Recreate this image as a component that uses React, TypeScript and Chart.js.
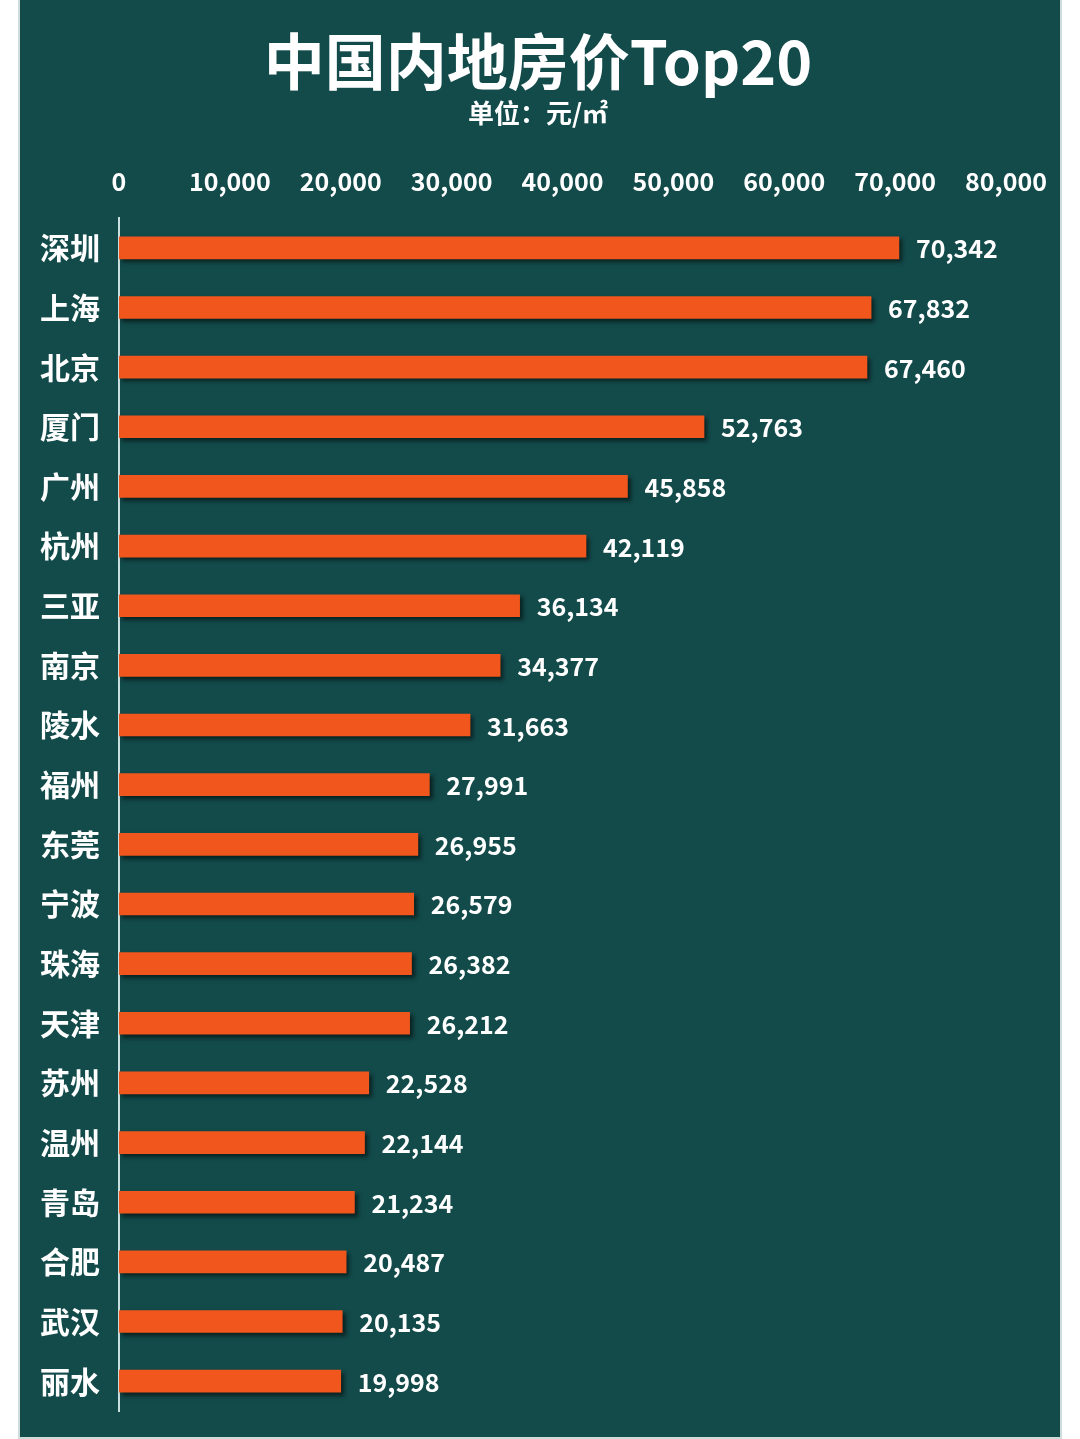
import React, { useEffect, useRef } from "react";
import { Chart, registerables } from "chart.js";

Chart.register(...registerables);

const cities = ["深圳", "上海", "北京", "厦门", "广州", "杭州", "三亚", "南京", "陵水", "福州", "东莞", "宁波", "珠海", "天津", "苏州", "温州", "青岛", "合肥", "武汉", "丽水"];
const prices = [70342, 67832, 67460, 52763, 45858, 42119, 36134, 34377, 31663, 27991, 26955, 26579, 26382, 26212, 22528, 22144, 21234, 20487, 20135, 19998];
const titleText = "中国内地房价Top20";
const subtitleText = "单位：元/㎡";
const xMax = 80000;
const xStep = 10000;

const BG = "#134a4a";
const BAR = "#f1561c";
const FONT = "'Noto Sans CJK SC', 'Noto Sans', sans-serif";

const fmt = (v: number) => v.toLocaleString("en-US");

export default function App() {
  const ref = useRef<HTMLCanvasElement | null>(null);
  useEffect(() => {
    if (!ref.current) return;
    const bgPlugin = {
      id: "bg",
      beforeDraw(chart: any) {
        const { ctx, width, height } = chart;
        ctx.save();
        ctx.fillStyle = BG;
        ctx.fillRect(0, 0, width, height);
        ctx.fillStyle = "#ffffff";
        ctx.textAlign = "center";
        ctx.textBaseline = "middle";
        ctx.font = `bold 61px ${FONT}`;
        ctx.fillText(titleText, width / 2 - 2, 62);
        ctx.font = `bold 26px ${FONT}`;
        ctx.fillText(subtitleText, width / 2 - 2, 113);
        ctx.restore();
      },
    };
    const shadowPlugin = {
      id: "barShadow",
      beforeDatasetDraw(chart: any) {
        const ctx = chart.ctx;
        ctx.save();
        ctx.shadowColor = "rgba(0,0,0,0.55)";
        ctx.shadowOffsetX = 3;
        ctx.shadowOffsetY = 3;
        ctx.shadowBlur = 4;
      },
      afterDatasetDraw(chart: any) {
        chart.ctx.restore();
      },
    };
    const labelPlugin = {
      id: "valueLabels",
      afterDatasetsDraw(chart: any) {
        const ctx = chart.ctx;
        const meta = chart.getDatasetMeta(0);
        ctx.save();
        ctx.fillStyle = "#ffffff";
        ctx.font = `bold 25px ${FONT}`;
        ctx.textAlign = "left";
        ctx.textBaseline = "middle";
        meta.data.forEach((bar: any, i: number) => {
          ctx.fillText(fmt(prices[i]), bar.x + 17, bar.y + 1);
        });
        ctx.restore();
      },
    };
    const chart = new Chart(ref.current, {
      type: "bar",
      data: {
        labels: cities,
        datasets: [
          {
            data: prices,
            backgroundColor: BAR,
            borderWidth: 0,
            barThickness: 22,
          },
        ],
      },
      options: {
        indexAxis: "y",
        animation: false,
        responsive: false,
        maintainAspectRatio: false,
        layout: { padding: { left: 0, right: 54, top: 130, bottom: 26 } },
        plugins: {
          legend: { display: false },
          tooltip: { enabled: false },
          title: { display: false },
        },
        scales: {
          x: {
            position: "top",
            min: 0,
            max: xMax,
            grid: { display: false, drawTicks: false },
            border: { display: false },
            afterFit(scale: any) {
              scale.height = 88;
              scale.paddingLeft = 0;
              scale.paddingRight = 0;
            },
            ticks: {
              stepSize: xStep,
              color: "#ffffff",
              padding: 22,
              maxRotation: 0,
              autoSkip: false,
              font: { family: FONT, size: 25, weight: "bold" },
              callback: (v: any) => fmt(Number(v)),
            },
          },
          y: {
            grid: { display: false, drawTicks: false },
            border: { display: true, color: "#c9dede", width: 2 },
            afterFit(scale: any) {
              scale.width = 99;
              scale.paddingTop = 0;
              scale.paddingBottom = 0;
            },
            ticks: {
              color: "#ffffff",
              padding: 19,
              font: { family: FONT, size: 30, weight: "bold" },
            },
          },
        },
      },
      plugins: [bgPlugin, shadowPlugin, labelPlugin],
    } as any);
    return () => chart.destroy();
  }, []);

  return (
    <div
      style={{
        position: "absolute",
        left: 18,
        top: 0,
        width: 1040,
        height: 1437,
        border: "2px solid #cfdcdc",
        borderTop: "none",
        background: BG,
      }}
    >
      <canvas ref={ref} width={1040} height={1437} style={{ display: "block", width: 1040, height: 1437 }} />
    </div>
  );
}
